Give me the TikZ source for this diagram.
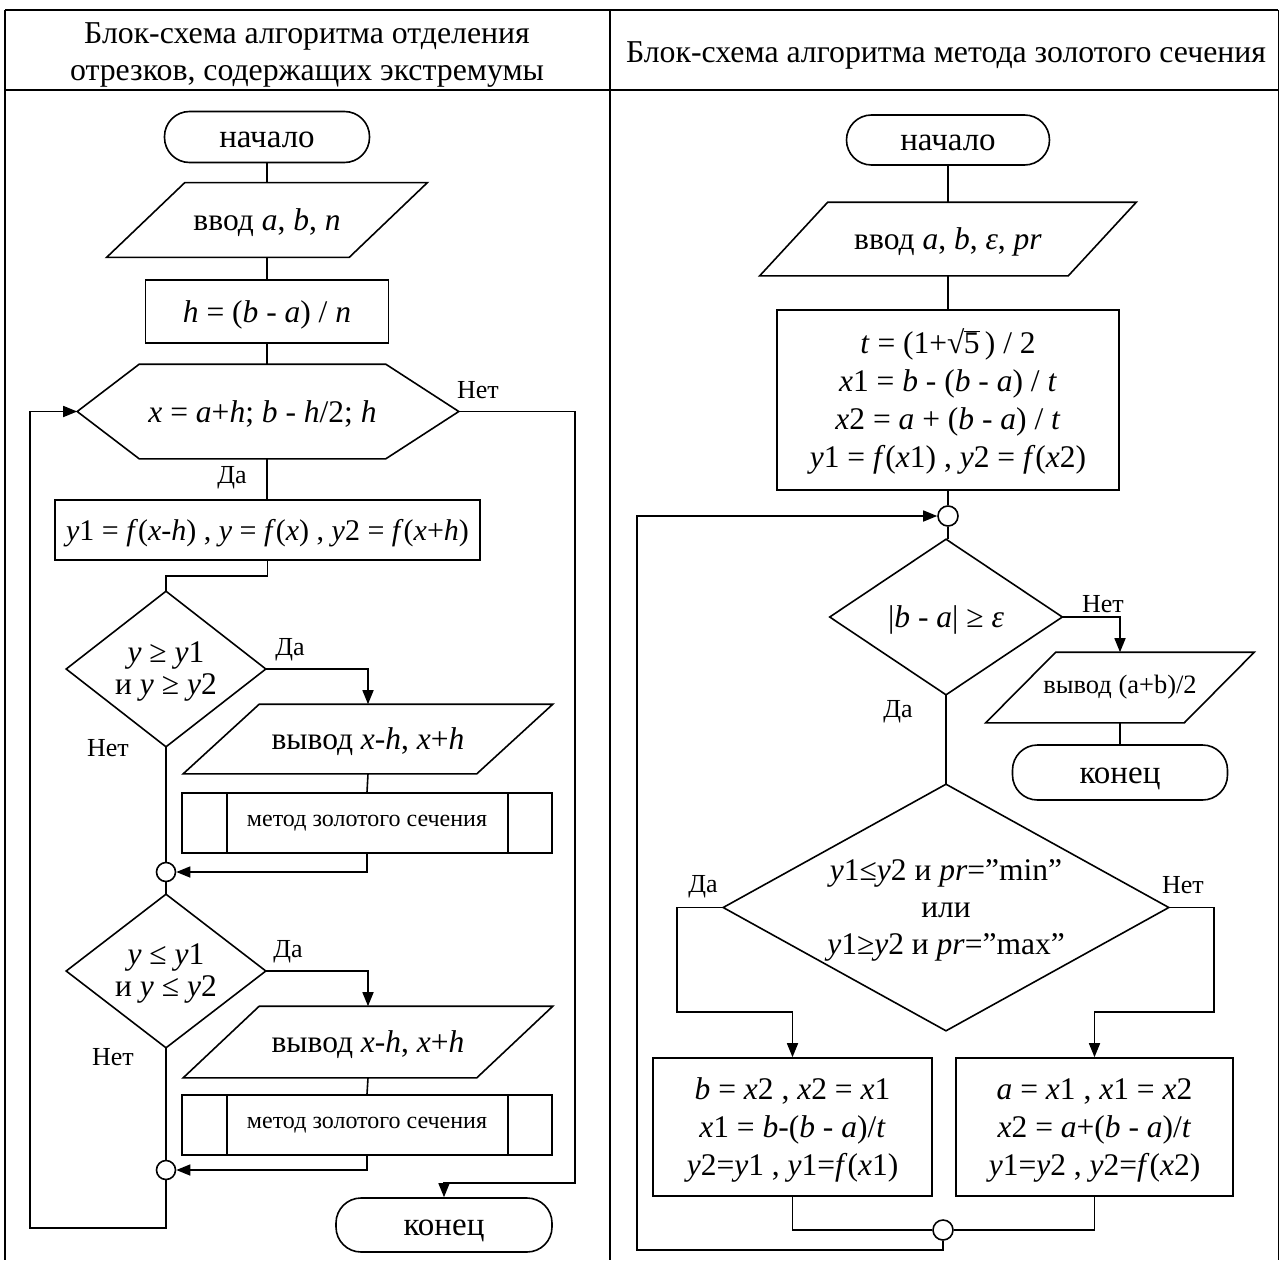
\documentclass[tikz,border=0pt]{standalone}
\usepackage{fontspec}
\setmainfont{Liberation Serif}
\usetikzlibrary{arrows.meta,calc}
\newcommand\ivar[1]{\textit{#1}}
\newcommand\tx[1]{\raisebox{-3pt}[\height][\depth]{\begin{tabular}{@{}c@{}}#1\end{tabular}}}
\newcommand\drawio[2]{\draw ([xshift=#2]#1.north west) -- ([xshift=#2]#1.north east) -- ([xshift=-#2]#1.south east) -- ([xshift=-#2]#1.south west) -- cycle;}
\newcommand\drawdia[1]{\draw (#1.north) -- (#1.east) -- (#1.south) -- (#1.west) -- cycle;}
\newcommand\drawsub[1]{\draw ([xshift=46pt]#1.north west) -- ([xshift=46pt]#1.south west); \draw ([xshift=-45pt]#1.north east) -- ([xshift=-45pt]#1.south east);}
\newcommand\sqrtfive{√\kern-0.6pt\vbox{\hrule height 1.1pt\kern1.2pt\hbox{5}}}
\begin{document}
\begin{tikzpicture}[x=1pt,y=-1pt,line width=1.6pt,
  base/.style={font=\fontsize{31.5}{38}\selectfont, inner sep=0pt},
  term/.style={base, font=\fontsize{33}{38}\selectfont, draw, rounded corners=25pt},
  proc/.style={base, draw},
  junc/.style={draw, circle, minimum size=19pt, inner sep=0pt},
  lbl/.style={font=\fontsize{26}{30}\selectfont, inner sep=0pt},
  hdr/.style={font=\fontsize{31.8}{37}\selectfont, inner sep=0pt, align=center},
  arr/.style={-{Triangle[length=14pt,width=11pt]}}]
\useasboundingbox (0,0) rectangle (1281,1260);
% table
\draw (5,10) -- (1278,10);
\draw (5,90) -- (1278,90);
\draw (5,10) -- (5,1260);
\draw (610,10) -- (610,1260);
\draw[line width=0.8pt] (1278,10) -- (1278,1260);
\node[hdr] (h1) at (307,55) {Блок-схема алгоритма отделения\\отрезков, содержащих экстремумы};
\node[hdr] (h2) at (946,55) {Блок-схема алгоритма метода золотого сечения};

% ---------------- left chart
\node[term, minimum width=205pt, minimum height=51pt] (s1) at (267,137) {\tx{начало}};
\node[base, minimum width=241pt, minimum height=73pt] (in1) at (267,220) {\tx{ввод \ivar{a}, \ivar{b}, \ivar{n}}};
\drawio{in1}{39pt}
\node[proc, minimum width=243pt, minimum height=63pt] (hb) at (267,311.5) {\tx{\ivar{h} = (\ivar{b} - \ivar{a}) / \ivar{n}}};
\node[base, minimum width=245pt, minimum height=93pt] (hx) at (262.5,411.5) {\tx{\ivar{x} = \ivar{a}+\ivar{h}; \ivar{b} - \ivar{h}/2; \ivar{h}}};
\coordinate (hxL) at ([xshift=-62pt]hx.west);
\coordinate (hxR) at ([xshift=73pt]hx.east);
\draw (hx.north west) -- (hx.north east) -- (hxR) -- (hx.south east) -- (hx.south west) -- (hxL) -- cycle;
\node[proc, font=\fontsize{30}{38}\selectfont, minimum width=425pt, minimum height=60pt] (yb) at (267.5,530) {\tx{\ivar{y}1 = \ivar{f}(\ivar{x}-\ivar{h}) , \ivar{y} = \ivar{f}(\ivar{x}) , \ivar{y}2 = \ivar{f}(\ivar{x}+\ivar{h})}};
\node[base, font=\fontsize{31.5}{32}\selectfont, minimum width=198pt, minimum height=154pt] (d1) at (166,669) {\tx{\ivar{y} ≥ \ivar{y}1\\и \ivar{y} ≥ \ivar{y}2}};
\drawdia{d1}
\node[base, minimum width=292pt, minimum height=68pt] (o1) at (368,739) {\tx{вывод \ivar{x}-\ivar{h}, \ivar{x}+\ivar{h}}};
\drawio{o1}{38pt}
\node[proc, font=\fontsize{24}{28}\selectfont, minimum width=370pt, minimum height=60pt] (sb1) at (367,823) {метод золотого сечения};
\drawsub{sb1}
\node[junc] (j1) at (166,872) {};
\node[base, font=\fontsize{31.5}{32}\selectfont, minimum width=198pt, minimum height=152pt] (d2) at (166,971) {\tx{\ivar{y} ≤ \ivar{y}1\\и \ivar{y} ≤ \ivar{y}2}};
\drawdia{d2}
\node[base, minimum width=292pt, minimum height=70pt] (o2) at (368,1042) {\tx{вывод \ivar{x}-\ivar{h}, \ivar{x}+\ivar{h}}};
\drawio{o2}{38pt}
\node[proc, font=\fontsize{24}{28}\selectfont, minimum width=370pt, minimum height=60pt] (sb2) at (367,1125) {метод золотого сечения};
\drawsub{sb2}
\node[junc] (j2) at (166,1170) {};
\node[term, minimum width=216pt, minimum height=54pt] (e1) at (444,1225) {\tx{конец}};

\coordinate (lp) at (30,1228);
\coordinate (rp) at (575,1183);
\draw (s1.south) -- (s1.south |- in1.north);
\draw (in1.south) -- (in1.south |- hb.north);
\draw (hb.south) -- (hb.south |- hx.north);
\draw (hb.south |- hx.south) -- (hb.south |- yb.north);
\draw (yb.south) -- ++(0,15) -| (d1.north);
\draw[arr] (d1.east) -| (o1.north);
\draw (o1.south) -- (sb1.north);
\draw[arr] (sb1.south) |- (j1.east);
\draw (d1.south) -- (j1.north);
\draw (j1.south) -- (d2.north);
\draw[arr] (d2.east) -| (o2.north);
\draw (o2.south) -- (sb2.north);
\draw[arr] (sb2.south) |- (j2.east);
\draw (d2.south) -- (j2.north);
\draw[arr] (j2.south) |- (lp) |- (hxL);
\draw[arr] (hxR) -| (rp) -| (e1.north);
\node[lbl] (l1) at (478,390) {Нет};
\node[lbl] (l2) at (232,478) {Да};
\node[lbl] (l3) at (290,650) {Да};
\node[lbl] (l4) at (108,748) {Нет};
\node[lbl] (l5) at (288,952) {Да};
\node[lbl] (l6) at (113,1057) {Нет};

% ---------------- right chart
\node[term, minimum width=203pt, minimum height=50pt] (s2) at (948,140) {\tx{начало}};
\node[base, minimum width=307pt, minimum height=72pt] (in2) at (948,239) {\tx{ввод \ivar{a}, \ivar{b}, \ivar{ε}, \ivar{pr}}};
\drawio{in2}{34pt}
\node[proc, minimum width=342pt, minimum height=180pt] (rb) at (948,400) {\tx{\ivar{t} = (1+\sqrtfive\,) / 2\\\ivar{x}1 = \ivar{b} - (\ivar{b} - \ivar{a}) / \ivar{t}\\\ivar{x}2 = \ivar{a} + (\ivar{b} - \ivar{a}) / \ivar{t}\\\ivar{y}1 = \ivar{f}(\ivar{x}1) , \ivar{y}2 = \ivar{f}(\ivar{x}2)}};
\node[junc, minimum size=20pt] (jr1) at (948,516) {};
\node[base, minimum width=231pt, minimum height=154pt] (dr1) at (946,617) {\tx{|\ivar{b} - \ivar{a}| ≥ \ivar{ε}}};
\drawdia{dr1}
\node[base, font=\fontsize{26.5}{30}\selectfont, minimum width=197pt, minimum height=69pt] (or1) at (1120,687.5) {вывод (a+b)/2};
\drawio{or1}{35pt}
\node[term, minimum width=215pt, minimum height=55pt] (er1) at (1120,772.5) {\tx{конец}};
\node[base, font=\fontsize{31.5}{37}\selectfont, minimum width=444pt, minimum height=245pt] (dr2) at (946,907.5) {\tx{\ivar{y}1≤\ivar{y}2 и \ivar{pr}=”min”\\или\\\ivar{y}1≥\ivar{y}2 и \ivar{pr}=”max”}};
\drawdia{dr2}
\node[proc, minimum width=279pt, minimum height=138pt] (bl) at (792.5,1127) {\tx{\ivar{b} = \ivar{x}2 , \ivar{x}2 = \ivar{x}1\\\ivar{x}1 = \ivar{b}-(\ivar{b} - \ivar{a})/\ivar{t}\\\ivar{y}2=\ivar{y}1 , \ivar{y}1=\ivar{f}(\ivar{x}1)}};
\node[proc, minimum width=277pt, minimum height=138pt] (br) at (1094.5,1127) {\tx{\ivar{a} = \ivar{x}1 , \ivar{x}1 = \ivar{x}2\\\ivar{x}2 = \ivar{a}+(\ivar{b} - \ivar{a})/\ivar{t}\\\ivar{y}1=\ivar{y}2 , \ivar{y}2=\ivar{f}(\ivar{x}2)}};
\node[junc, minimum size=20pt] (jr2) at (943,1230) {};

\coordinate (cl) at (677,1012);
\coordinate (cr) at (1214,1012);
\coordinate (lr) at (637,1250);
\draw (s2.south) -- (s2.south |- in2.north);
\draw (in2.south) -- (in2.south |- rb.north);
\draw (rb.south) -- (jr1.north);
\draw (jr1.south) -- (jr1.south |- dr1.north);
\draw[arr] (dr1.east) -| (or1.north);
\draw (or1.south) -- (er1.north);
\draw (dr1.south) -- (dr2.north);
\draw[arr] (dr2.west) -| (cl) -| (bl.north);
\draw[arr] (dr2.east) -| (cr) -| (br.north);
\draw (bl.south) |- (jr2.west);
\draw (br.south) |- (jr2.east);
\draw[arr] (jr2.south) |- (lr) |- (jr1.west);
\node[lbl] (r1) at (1103,604) {Нет};
\node[lbl] (r2) at (898,712) {Да};
\node[lbl] (r3) at (703,887) {Да};
\node[lbl] (r4) at (1183,885) {Нет};
\end{tikzpicture}
\end{document}
